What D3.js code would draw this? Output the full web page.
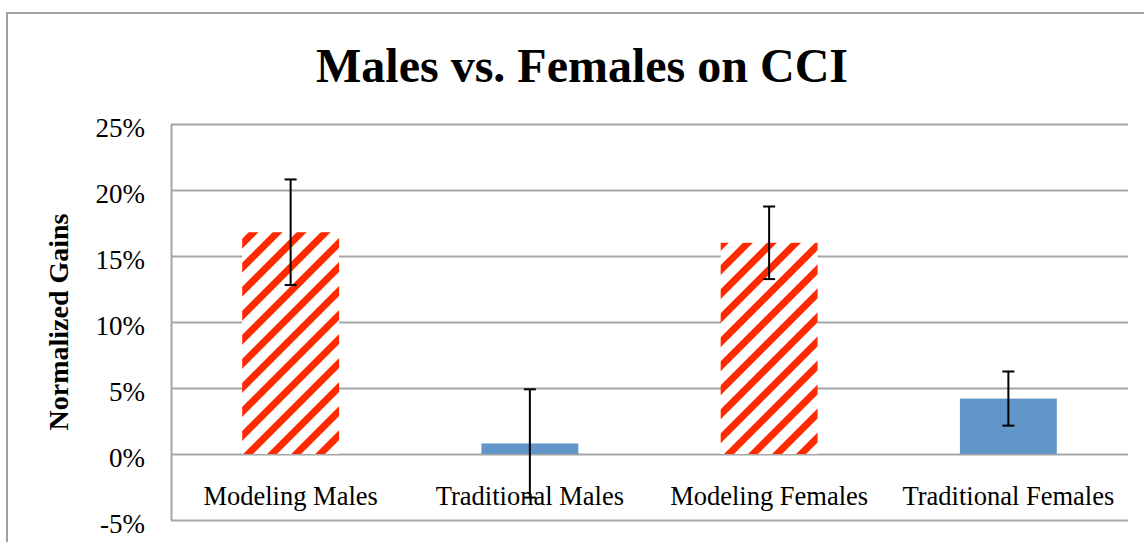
<!DOCTYPE html>
<meta charset="utf-8">
<style>
    body { margin: 0; background: #fff; }
    .axis path, .axis line { fill: none; stroke: #a6a6a6; stroke-width: 2; }
    .axis text { font-family: "Liberation Serif", serif; font-size: 27px; fill: #000; }
</style>
<div class="chart"></div>
<script src="https://cdn.jsdelivr.net/npm/d3@7"></script>
<script>
    // data
    var categories = ["Modeling Males", "Traditional Males", "Modeling Females", "Traditional Females"];
    var gains = [0.168, 0.008, 0.160, 0.042];
    var errors = [0.040, 0.041, 0.0275, 0.0205];
    var yTicks = [-0.05, 0, 0.05, 0.10, 0.15, 0.20, 0.25];

    var W = 1144, H = 542;
    var plot = {left: 171, right: 1128, top: 124, bottom: 520};

    var svg = d3.select('.chart').append('svg')
        .attr('width', W)
        .attr('height', H);

    // diagonal red hatch
    var defs = svg.append('defs');
    var pat = defs.append('pattern')
        .attr('id', 'hatch')
        .attr('patternUnits', 'userSpaceOnUse')
        .attr('width', 17)
        .attr('height', 17)
        .attr('patternTransform', 'rotate(45)');
    pat.append('rect').attr('width', 17).attr('height', 17).attr('fill', '#fff');
    pat.append('rect').attr('width', 7).attr('height', 17).attr('fill', '#ff2a00');

    // outer chart border (cropped on right / bottom)
    svg.append('path')
        .attr('d', 'M7,' + H + 'V13H' + W)
        .attr('fill', 'none')
        .attr('stroke', '#a0a0a0')
        .attr('stroke-width', 2);

    svg.append('text')
        .attr('x', 582)
        .attr('y', 82)
        .attr('text-anchor', 'middle')
        .attr('font-family', '"Liberation Serif", serif')
        .attr('font-weight', 'bold')
        .attr('font-size', 48)
        .text('Males vs. Females on CCI');

    var x = d3.scaleBand()
        .domain(categories)
        .range([plot.left, plot.right])
        .paddingInner(0.595)
        .paddingOuter(0.2975);

    var y = d3.scaleLinear()
        .domain([-0.05, 0.25])
        .range([plot.bottom, plot.top]);

    var pct = d3.format('.0%');
    var yAxis = d3.axisLeft(y)
        .tickValues(yTicks)
        .tickFormat(function (d) { return pct(d).replace('\u2212', '-'); })
        .tickSize(-(plot.right - plot.left))
        .tickSizeOuter(0)
        .tickPadding(26);

    var gy = svg.append('g')
        .attr('class', 'y axis')
        .attr('transform', 'translate(' + plot.left + ',0)')
        .call(yAxis);
    gy.selectAll('text').attr('dy', '0.45em');

    svg.append('text')
        .attr('transform', 'translate(68,322) rotate(-90)')
        .attr('text-anchor', 'middle')
        .attr('font-family', '"Liberation Serif", serif')
        .attr('font-weight', 'bold')
        .attr('font-size', 28)
        .text('Normalized Gains');

    var data = categories.map(function (c, i) {
        return {name: c, value: gains[i], err: errors[i]};
    });

    svg.selectAll('.bar')
        .data(data)
        .enter().append('rect')
        .attr('class', 'bar')
        .attr('x', function (d) { return x(d.name); })
        .attr('width', x.bandwidth())
        .attr('y', function (d) { return y(d.value); })
        .attr('height', function (d) { return y(0) - y(d.value); })
        .attr('fill', function (d) {
            return d.name.indexOf('Modeling') == 0 ? 'url(#hatch)' : '#6196c9';
        });

    // category labels
    svg.selectAll('.cat')
        .data(categories)
        .enter().append('text')
        .attr('class', 'cat')
        .attr('x', function (d) { return x(d) + x.bandwidth() / 2; })
        .attr('y', 505)
        .attr('text-anchor', 'middle')
        .attr('font-family', '"Liberation Serif", serif')
        .attr('font-size', 26.5)
        .text(function (d) { return d; });

    // error bars
    var eb = svg.selectAll('.err')
        .data(data)
        .enter().append('g')
        .attr('class', 'err')
        .attr('stroke', '#000')
        .attr('stroke-width', 2);
    eb.append('line')
        .attr('x1', function (d) { return x(d.name) + x.bandwidth() / 2; })
        .attr('x2', function (d) { return x(d.name) + x.bandwidth() / 2; })
        .attr('y1', function (d) { return y(d.value + d.err); })
        .attr('y2', function (d) { return y(d.value - d.err); });
    [1, -1].forEach(function (s) {
        eb.append('line')
            .attr('x1', function (d) { return x(d.name) + x.bandwidth() / 2 - 6; })
            .attr('x2', function (d) { return x(d.name) + x.bandwidth() / 2 + 6; })
            .attr('y1', function (d) { return y(d.value + s * d.err); })
            .attr('y2', function (d) { return y(d.value + s * d.err); });
    });
</script>
